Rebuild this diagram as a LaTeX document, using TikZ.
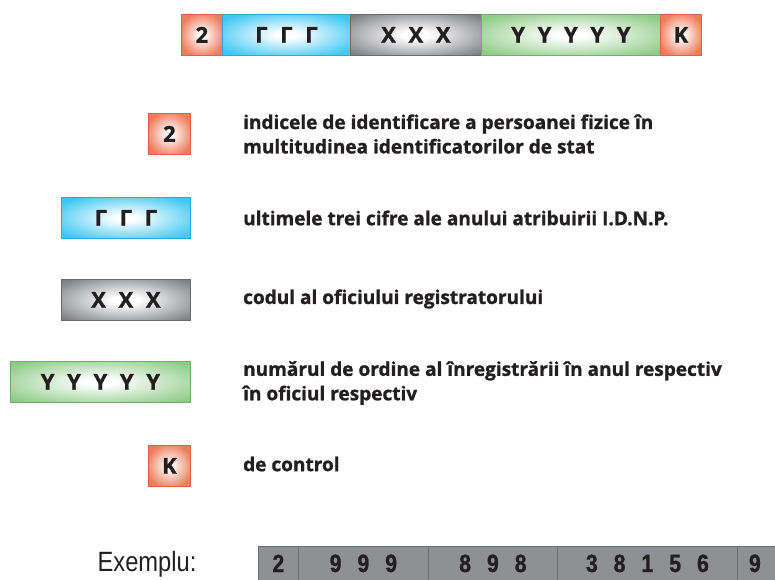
\documentclass[tikz,border=0pt]{standalone}
\usepackage{fontspec}
\setmainfont{Open Sans}[BoldFeatures={FakeBold=1.2}]
\newfontfamily\narrowfont[FakeStretch=0.85, BoldFeatures={FakeBold=1}]{Liberation Sans}

\definecolor{ink}{HTML}{231F20}
\definecolor{cor}{HTML}{EF7B5C}
\definecolor{corb}{HTML}{D8664A}
\definecolor{cbl}{HTML}{3EC7F2}
\definecolor{cblb}{HTML}{34A6CF}
\definecolor{cgr}{HTML}{7F8084}
\definecolor{cgrb}{HTML}{6A6B6E}
\definecolor{cgn}{HTML}{8ECB87}
\definecolor{cgnb}{HTML}{72AF6C}
\definecolor{cex}{HTML}{8F9093}
\definecolor{cexb}{HTML}{6C6D70}

% white-centred glows for the code fields
\pgfdeclareradialshading{glowor}{\pgfpoint{0bp}{0bp}}{color(0bp)=(white); color(3bp)=(white); color(28bp)=(cor); color(100bp)=(cor)}
\pgfdeclareradialshading{glowbl}{\pgfpoint{0bp}{0bp}}{color(0bp)=(white); color(4bp)=(white); color(31bp)=(cbl); color(100bp)=(cbl)}
\pgfdeclareradialshading{glowgr}{\pgfpoint{0bp}{0bp}}{color(0bp)=(white); color(5bp)=(white); color(33bp)=(cgr); color(100bp)=(cgr)}
\pgfdeclareradialshading{glowgn}{\pgfpoint{0bp}{0bp}}{color(0bp)=(white); color(4bp)=(white); color(32bp)=(cgn); color(100bp)=(cgn)}

\newcommand\lgap{\hspace{0.58em}}
\newcommand\dgap{\hspace{16bp}}

\tikzset{
  field/.style={anchor=north west, inner sep=0pt, minimum height=41bp,
    line width=0.8bp, font=\bfseries\fontsize{22}{26}\selectfont, text=ink},
  for/.style={field, shading=glowor, draw=corb},
  fbl/.style={field, shading=glowbl, draw=cblb},
  fgr/.style={field, shading=glowgr, draw=cgrb},
  fgn/.style={field, shading=glowgn, draw=cgnb},
  desc/.style={anchor=west, inner sep=0pt, align=left, text=ink,
    font=\bfseries\fontsize{19.1}{24.5}\selectfont},
  excell/.style={anchor=north west, inner sep=0pt, minimum height=34bp,
    fill=cex, draw=cexb, line width=0.8bp, text=ink,
    font=\narrowfont\bfseries\fontsize{25}{29}\selectfont}
}

\begin{document}
\begin{tikzpicture}[x=1bp, y=-1bp]
\useasboundingbox (0,0) rectangle (775,580);
\clip (0,0) rectangle (775,580);

% code layout
\node[for, minimum width=41bp]  (t2) at (181,14) {2};
\node[fbl, minimum width=128bp] (tg) at (222,14) {Г\lgap Г\lgap Г};
\node[fgr, minimum width=131bp] (tx) at (350,14) {X\lgap X\lgap X};
\node[fgn, minimum width=179bp] (ty) at (481,14) {Y\lgap Y\lgap Y\lgap Y\lgap Y};
\node[for, minimum width=41bp]  (tk) at (660,14) {K};

% legend fields
\node[for, minimum width=42bp]  (l2) at (148,113) {2};
\node[fbl, minimum width=129bp] (lg) at (61,197) {Г\lgap Г\lgap Г};
\node[fgr, minimum width=129bp] (lx) at (61,279) {X\lgap X\lgap X};
\node[fgn, minimum width=180bp] (ly) at (10,361) {Y\lgap Y\lgap Y\lgap Y\lgap Y};
\node[for, minimum width=42bp]  (lk) at (148,445) {K};

% explanations
\node[desc] (d2) at (243,134) {indicele de identificare a persoanei fizice în\\multitudinea identificatorilor de stat};
\node[desc] (dg) at (243,218) {ultimele trei cifre ale anului atribuirii I.D.N.P.};
\node[desc] (dx) at (243,299) {codul al oficiului registratorului};
\node[desc] (dy) at (243,383) {numărul de ordine al înregistrării în anul respectiv\\în oficiul respectiv};
\node[desc] (dk) at (243,464) {de control};

% example
\node[anchor=center, inner sep=0pt, text=ink, font=\narrowfont\fontsize{28}{32}\selectfont] (ex) at (147,564) {Exemplu:};
\node[excell, minimum width=40bp]  (e1) at (258,546) {2};
\node[excell, minimum width=130bp] (e2) at (298,546) {9\dgap 9\dgap 9};
\node[excell, minimum width=129bp] (e3) at (428,546) {8\dgap 9\dgap 8};
\node[excell, minimum width=180bp] (e4) at (557,546) {3\dgap 8\dgap 1\dgap 5\dgap 6};
\node[excell, minimum width=45bp]  (e5) at (737,546) {\hspace{-10bp}9};
\end{tikzpicture}
\end{document}
